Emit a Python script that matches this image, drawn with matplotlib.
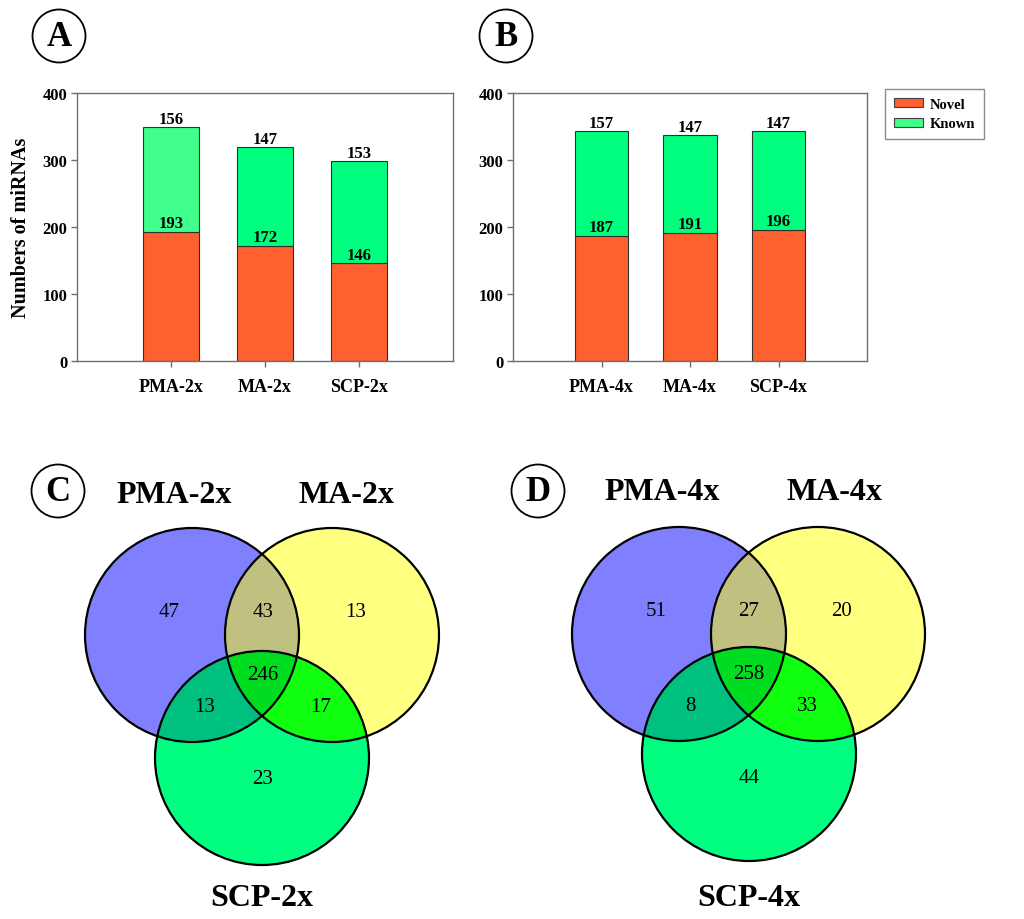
import numpy as np
import matplotlib
matplotlib.use('Agg')
import matplotlib.pyplot as plt
from matplotlib.patches import Circle, Patch
from matplotlib.colors import to_rgba

plt.rcParams['font.family'] = ['Liberation Serif', 'DejaVu Serif']

# ---------------- data ----------------
groups_2x = ['PMA-2x', 'MA-2x', 'SCP-2x']
novel_2x = [193, 172, 146]
known_2x = [156, 147, 153]

groups_4x = ['PMA-4x', 'MA-4x', 'SCP-4x']
novel_4x = [187, 191, 196]
known_4x = [157, 147, 147]

yticks = [0, 100, 200, 300, 400]
series_names = ['Novel', 'Known']

# Venn region order: A only, B only, C only, AB, AC, BC, ABC
venn_sets_2x = ['PMA-2x', 'MA-2x', 'SCP-2x']
venn_counts_2x = [47, 13, 23, 43, 13, 17, 246]
venn_sets_4x = ['PMA-4x', 'MA-4x', 'SCP-4x']
venn_counts_4x = [51, 20, 44, 27, 8, 33, 258]

# ---------------- style ----------------
NOVEL_C = '#FF6030'
KNOWN_C = '#00FF7F'
KNOWN_LIGHT = '#40FF8C'
REGION_COLORS = ['#8080FF', '#FFFF80', '#00FF80', '#C0C080', '#00C080', '#10FF10', '#00DD20']
SPINE_C = '#707070'

W, H = 1024, 920
fig = plt.figure(figsize=(W / 100, H / 100), dpi=100)


def frect(x0, y0, x1, y1):
    return [x0 / W, 1 - y1 / H, (x1 - x0) / W, (y1 - y0) / H]


def bar_panel(rect, cats, novel, known, known_colors, ylabel=None):
    ax = fig.add_axes(rect)
    x = np.arange(1, len(cats) + 1)
    ax.bar(x, novel, width=0.6, color=NOVEL_C, edgecolor='#303030', linewidth=0.8, zorder=2)
    ax.bar(x, known, bottom=novel, width=0.6, color=known_colors, edgecolor='#303030',
           linewidth=0.8, zorder=2)
    for xi, n, k in zip(x, novel, known):
        ax.text(xi, n + 1, str(n), ha='center', va='bottom', fontsize=12, fontweight='bold', zorder=3)
        ax.text(xi, n + k, str(k), ha='center', va='bottom', fontsize=12, fontweight='bold', zorder=3)
    ax.set_xlim(0, 4)
    ax.set_ylim(0, 400)
    ax.set_yticks(yticks)
    ax.set_xticks(x)
    ax.set_xticklabels(cats)
    for s in ax.spines.values():
        s.set_color(SPINE_C)
        s.set_linewidth(1.0)
    ax.tick_params(axis='y', direction='out', length=4, width=1, color=SPINE_C, pad=3,
                   labelsize=12)
    ax.tick_params(axis='x', direction='out', length=4, width=1, color=SPINE_C, pad=8,
                   labelsize=13)
    for lab in ax.get_xticklabels() + ax.get_yticklabels():
        lab.set_fontweight('bold')
    if ylabel:
        ax.set_ylabel(ylabel, fontsize=14.5, fontweight='bold', labelpad=8)
    return ax


axA = bar_panel(frect(77, 94, 453, 362), groups_2x, novel_2x, known_2x,
                [KNOWN_LIGHT, KNOWN_C, KNOWN_C], ylabel='Numbers of miRNAs')
axB = bar_panel(frect(513, 94, 867, 362), groups_4x, novel_4x, known_4x,
                [KNOWN_C, KNOWN_C, KNOWN_C])

handles = [Patch(facecolor=NOVEL_C, edgecolor='#404040', linewidth=0.8),
           Patch(facecolor=KNOWN_LIGHT, edgecolor='#404040', linewidth=0.8)]
leg = fig.legend(handles, series_names, loc='upper left', bbox_to_anchor=(885 / W, 1 - 90 / H),
                 prop={'weight': 'bold', 'size': 10.5}, frameon=True, fancybox=False,
                 edgecolor='#707070', borderaxespad=0, handlelength=2.0, handleheight=0.6,
                 handletextpad=0.5, labelspacing=0.45, borderpad=0.6)
leg.get_frame().set_linewidth(1.0)

# ---------------- overlay axes in pixel coordinates ----------------
ov = fig.add_axes([0, 0, 1, 1])
ov.axis('off')


def panel_letter(cx, cy, letter):
    ov.add_patch(Circle((cx, cy), 26.5, fill=False, ec='black', lw=1.3))
    ov.text(cx, cy + 1, letter, ha='center', va='center', fontsize=25, fontweight='bold')


def venn(centers, r, counts, names, name_pos, count_pos):
    res = 3
    xs_c = [c[0] for c in centers]
    ys_c = [c[1] for c in centers]
    x0, x1 = min(xs_c) - r - 4, max(xs_c) + r + 4
    y0, y1 = min(ys_c) - r - 4, max(ys_c) + r + 4
    xs = np.linspace(x0, x1, int((x1 - x0) * res))
    ys = np.linspace(y0, y1, int((y1 - y0) * res))
    X, Y = np.meshgrid(xs, ys)
    inA, inB, inC = [((X - cx) ** 2 + (Y - cy) ** 2) <= r * r for cx, cy in centers]
    masks = [inA & ~inB & ~inC, inB & ~inA & ~inC, inC & ~inA & ~inB,
             inA & inB & ~inC, inA & inC & ~inB, inB & inC & ~inA, inA & inB & inC]
    img = np.zeros(X.shape + (4,), dtype=np.float32)
    for m, col in zip(masks, REGION_COLORS):
        img[m] = to_rgba(col)
    ov.imshow(img, extent=(x0, x1, y1, y0), origin='upper', interpolation='bilinear', zorder=1)
    for cx, cy in centers:
        ov.add_patch(Circle((cx, cy), r, fill=False, ec='black', lw=1.6, zorder=2))
    for (tx, ty), t in zip(name_pos, names):
        ov.text(tx, ty, t, ha='center', va='center', fontsize=23, fontweight='bold', zorder=3)
    for (tx, ty), v in zip(count_pos, counts):
        ov.text(tx, ty, str(v), ha='center', va='center', fontsize=15, zorder=3)


panel_letter(59, 37, 'A')
panel_letter(506, 37, 'B')
panel_letter(58, 492, 'C')
panel_letter(538, 492, 'D')

venn([(192, 636), (332, 636), (262, 759)], 107, venn_counts_2x, venn_sets_2x,
     [(174, 496), (346, 496), (262, 899)],
     [(169, 613), (356, 613), (263, 780), (263, 613), (205, 708), (321, 708), (263, 676)])

venn([(679, 635), (818, 635), (749, 755)], 107, venn_counts_4x, venn_sets_4x,
     [(662, 493), (834, 493), (749, 899)],
     [(656, 612), (842, 612), (749, 779), (749, 612), (690, 707), (807, 707), (749, 675)])

ov.set_xlim(0, W)
ov.set_ylim(H, 0)
ov.set_aspect('auto')

fig.savefig('out.png', dpi=100, facecolor='white')
